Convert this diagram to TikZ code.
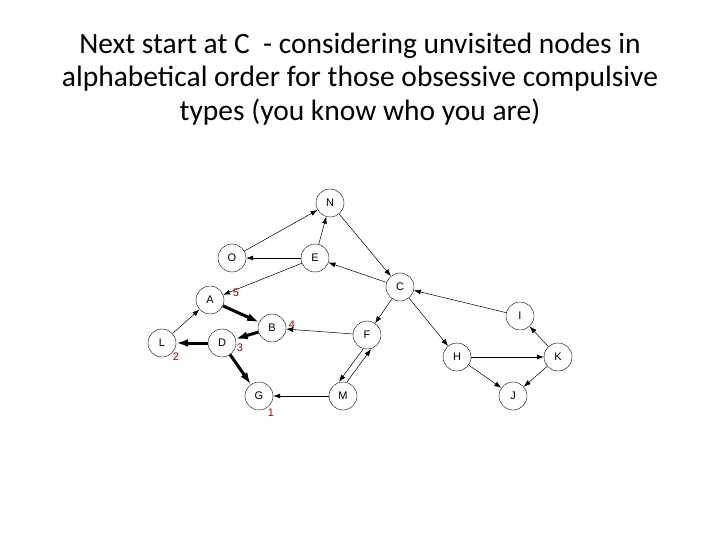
\documentclass[tikz,border=0pt]{standalone}
\usepackage{fontspec}
\setmainfont{Carlito}
\newfontfamily\arialf{Liberation Sans}
\usetikzlibrary{arrows.meta}
\begin{document}
\begin{tikzpicture}[x=1pt,y=-1pt,
  vtx/.style={circle,draw,minimum size=28pt,inner sep=0pt,font=\arialf\fontsize{11}{11}\selectfont},
  edge/.style={-{Latex[length=7pt,width=5pt]},line width=0.5pt},
  bold/.style={-{Latex[length=12pt,width=8pt]},line width=3pt},
  num/.style={text=red!70!black,font=\arialf\fontsize{11}{11}\selectfont,inner sep=0pt}]
\useasboundingbox (0,0) rectangle (720,540);
\node[align=center,font=\fontsize{29.5}{33.5}\selectfont] (t) at (360,79) {Next start at C\ \ - considering unvisited nodes in\\alphabetical order for those obsessive compulsive\\types (you know who you are)};
\node[vtx] (N) at (330,203) {N};
\node[vtx] (O) at (232,258) {O};
\node[vtx] (E) at (315,258) {E};
\node[vtx] (C) at (400,287) {C};
\node[vtx] (A) at (210,300) {A};
\node[vtx] (B) at (272,328) {B};
\node[vtx] (F) at (367,335) {F};
\node[vtx] (I) at (520,316) {I};
\node[vtx] (L) at (162,343) {L};
\node[vtx] (D) at (222,343) {D};
\node[vtx] (H) at (457,357) {H};
\node[vtx] (K) at (558,357) {K};
\node[vtx] (G) at (259,396) {G};
\node[vtx] (M) at (343,396) {M};
\node[vtx] (J) at (513,396) {J};
\draw[edge] (O)--(N);
\draw[edge] (E)--(N);
\draw[edge] (E)--(O);
\draw[edge] (N)--(C);
\draw[edge] (C)--(E);
\draw[edge] (E)--(A);
\draw[edge] (L)--(A);
\draw[edge] (F)--(B);
\draw[edge] (C)--(F);
\draw[edge] ([xshift=-4pt]F.south)--([xshift=-4pt]M.north);
\draw[edge] ([xshift=4pt]M.north)--([xshift=4pt]F.south);
\draw[edge] (M)--(G);
\draw[edge] (C)--(H);
\draw[edge] (I)--(C);
\draw[edge] (K)--(I);
\draw[edge] (H)--(K);
\draw[edge] (H)--(J);
\draw[edge] (K)--(J);
\draw[bold] (A)--(B);
\draw[bold] (B)--(D);
\draw[bold] (D)--(L);
\draw[bold] (D)--(G);
\node[num] (n5) at (236,293) {5};
\node[num] (n4) at (292,325) {4};
\node[num] (n3) at (240,348) {3};
\node[num] (n2) at (176,357) {2};
\node[num] (n1) at (271,413) {1};
\end{tikzpicture}
\end{document}
